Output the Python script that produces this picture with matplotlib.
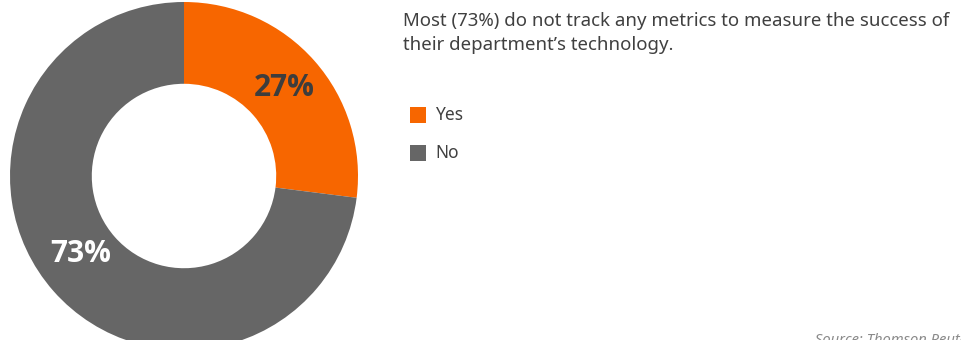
import matplotlib.pyplot as plt
from matplotlib.patches import Rectangle

# survey answers
labels = ["Yes", "No"]
shares = [27, 73]
colors = ["#f76600", "#666666"]
label_colors = ["#3d3d3d", "#ffffff"]

title = ("Most (73%) do not track any metrics to measure the success of\n"
         "their department\u2019s technology.")
source = "Source: Thomson Reuters"

plt.rcParams['font.family'] = ['Noto Sans', 'DejaVu Sans']

W, H = 962, 340
fig = plt.figure(figsize=(W / 100, H / 100), dpi=100)

# donut: centre (184, 176) px, outer radius 174 px
cx, cy, r = 184, 176, 174
ax = fig.add_axes([(cx - r) / W, (H - cy - r) / H, 2 * r / W, 2 * r / H])
wedges, texts, autotexts = ax.pie(
    shares, colors=colors, startangle=90, counterclock=False, radius=1,
    wedgeprops=dict(width=0.47, linewidth=0),
    autopct=lambda p: f"{p:.0f}%", pctdistance=0.765,
)
for t, c in zip(autotexts, label_colors):
    t.set_color(c)
    t.set_fontsize(21.5)
    t.set_fontfamily(['Open Sans', 'DejaVu Sans'])
    t.set_fontweight('bold')
# the big slice label sits a little higher, nearer the left edge
x0, y0 = autotexts[1].get_position()
autotexts[1].set_position((x0 - 0.02, y0 + 0.06))
ax.set_xlim(-1, 1)
ax.set_ylim(-1, 1)
ax.set_aspect('equal')
ax.axis('off')

fig.text(403 / W, 1 - 12 / H, title, ha='left', va='top', fontsize=13.4,
         color='#404040', linespacing=1.42)

# legend squares
for i, (lab, col) in enumerate(zip(labels, colors)):
    yc = 115 + i * 38
    fig.patches.append(Rectangle((410 / W, 1 - (yc + 8) / H), 16 / W, 16 / H,
                                 transform=fig.transFigure, facecolor=col,
                                 edgecolor='none'))
    fig.text(435 / W, 1 - yc / H, lab, ha='left', va='center', fontsize=12.5,
             color='#404040')

fig.text(815 / W, -4 / H, source, ha='left', va='baseline', fontsize=10.6,
         style='italic', color='#8a8a8a')

fig.savefig("out.png", dpi=100)
